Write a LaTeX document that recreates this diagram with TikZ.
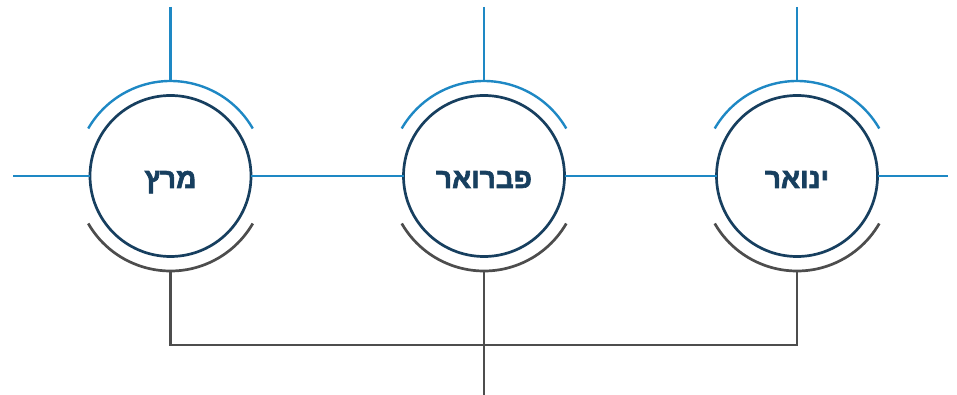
\documentclass[tikz,border=0pt]{standalone}
\usepackage{fontspec}
\setmainfont{Liberation Sans}
\newfontfamily\hebfont[Script=Hebrew, FakeBold=2.2]{Liberation Sans Bold}
\TeXXeTstate=1
\usetikzlibrary{positioning}

\definecolor{skyblue}{HTML}{1E88C4}
\definecolor{navyblue}{HTML}{173F5F}
\definecolor{linegray}{HTML}{4D4D4D}

\begin{document}
\begin{tikzpicture}[
    x=1pt, y=-1pt,
    month/.style={circle, draw=navyblue, line width=2.7pt, minimum size=161pt,
      inner sep=0pt, outer sep=0pt, text=navyblue, text height=24pt, text depth=0pt,
      font=\hebfont\fontsize{28}{32}\selectfont},
    blueline/.style={draw=skyblue, line width=2.4pt},
    grayline/.style={draw=linegray, line width=2.7pt}
  ]
  \useasboundingbox (0,0) rectangle (957,395);

  \node[month]                      (mar) at (170.5,176) {\beginR מרץ\endR};
  \node[month, right=152.5pt of mar] (feb) {\beginR פברואר\endR};
  \node[month, right=152pt of feb]   (jan) {\beginR ינואר\endR};

  % arcs and end points above / below each month
  \foreach \m in {mar, feb, jan} {
    \draw[blueline] ([shift={(30:95pt)}]\m.center) arc[start angle=30, end angle=150, radius=95pt];
    \draw[grayline] ([shift={(210:95pt)}]\m.center) arc[start angle=210, end angle=330, radius=95pt];
    \coordinate (\m-up)   at ([yshift=95pt]\m.center);
    \coordinate (\m-sky)  at ([yshift=169pt]\m.center);
    \coordinate (\m-down) at ([yshift=-95pt]\m.center);
    \coordinate (\m-base) at ([yshift=-169pt]\m.center);
    \draw[blueline] (\m-sky) -- (\m-up);
  }
  \coordinate (west-end) at (13,176);
  \coordinate (east-end) at (948,176);
  \coordinate (feb-foot) at (feb.center |- 0,395);

  % time line
  \draw[blueline] (west-end) -- (mar) (mar) -- (feb) (feb) -- (jan) (jan) -- (east-end);

  % bottom bracket
  \draw[grayline] (mar-down) -- (mar-base) -- (jan-base) -- (jan-down);
  \draw[grayline] (feb-down) -- (feb-foot);

\end{tikzpicture}
\end{document}
